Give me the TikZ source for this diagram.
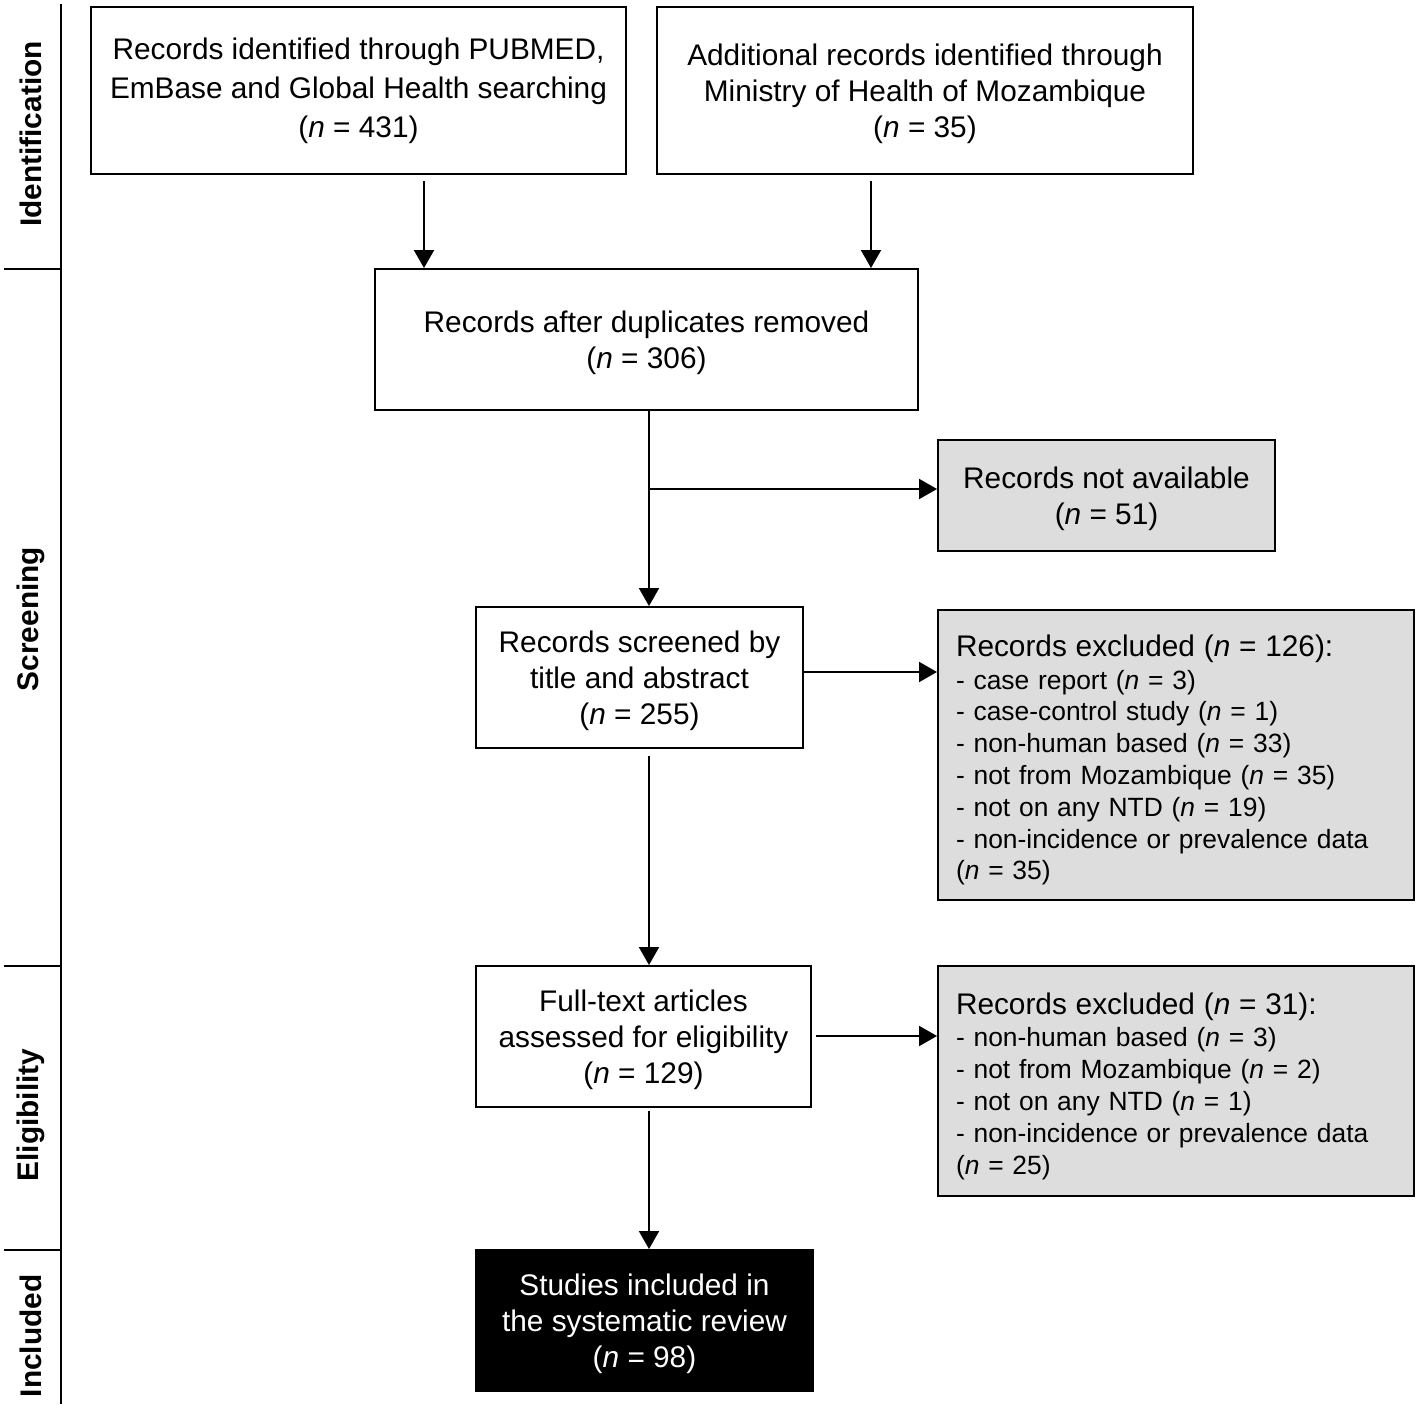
\documentclass[tikz,border=0pt]{standalone}
\usepackage{fontspec}
\setmainfont{Liberation Sans}
\usetikzlibrary{arrows.meta}
\definecolor{boxgray}{RGB}{221,221,221}
\newcommand\tstrut{\rule{0pt}{14.3pt}}
\newcommand\hstrut{\rule{0pt}{15.8pt}}
\begin{document}
\begin{tikzpicture}[x=0.5pt,y=-0.5pt,
  base/.style={draw=black, line width=1pt, inner sep=2pt, align=center,
    font=\fontsize{14.9}{18}\selectfont},
  whitebox/.style={base, fill=white},
  graybox/.style={base, fill=boxgray},
  listbox/.style={graybox, align=left, inner xsep=9pt, text width=220pt,
    font=\fontsize{13.2}{15.9}\selectfont},
  blackbox/.style={base, fill=black, text=white},
  arr/.style={-{Triangle[length=9pt,width=10pt]}, line width=1pt},
  ln/.style={line width=1pt},
  phase/.style={rotate=90, font=\fontsize{14.9}{18}\selectfont\bfseries, inner sep=0pt}
]
\useasboundingbox (0,0) rectangle (1418,1408);

% sidebar
\coordinate (sTop) at (61,4);
\coordinate (sBot) at (61,1404);
\coordinate (t1) at (4,269);
\coordinate (t2) at (4,966);
\coordinate (t3) at (4,1250);
\draw[ln] (sTop) -- (sBot);
\draw[ln] (t1) -- (t1 -| sTop);
\draw[ln] (t2) -- (t2 -| sTop);
\draw[ln] (t3) -- (t3 -| sTop);
\node[phase] (pId) at (31,134) {Identification};
\node[phase] (pSc) at (31,619) {Screening};
\node[phase] (pEl) at (31,1115) {Eligibility};
\node[phase] (pIn) at (31,1336) {Included};

% boxes
\node[whitebox, minimum width=267.5pt, minimum height=83.5pt, font=\fontsize{14.9}{19.5}\selectfont] (b1) at (358.5,90.5)
  {Records identified through PUBMED,\\EmBase and Global Health searching\\(\textit{n} = 431)};
\node[whitebox, minimum width=268pt, minimum height=83.5pt] (b2) at (925,90.5)
  {\tstrut Additional records identified through\\Ministry of Health of Mozambique\\(\textit{n} = 35)};
\node[whitebox, minimum width=271.5pt, minimum height=70.5pt] (b3) at (646.5,339.5)
  {\tstrut Records after duplicates removed\\(\textit{n} = 306)};
\node[graybox, minimum width=168.5pt, minimum height=55.5pt] (b4) at (1106.5,495.5)
  {\tstrut Records not available\\(\textit{n} = 51)};
\node[whitebox, minimum width=163.5pt, minimum height=70.5pt] (b5) at (639.5,677.5)
  {\tstrut Records screened by\\title and abstract\\(\textit{n} = 255)};
\node[listbox, minimum height=145pt] (b6) at (1176,755)
  {{\fontsize{14.9}{18}\selectfont\hstrut Records excluded (\textit{n} = 126):}\\[0.5pt]
   - case report (\textit{n} = 3)\\
   - case-control study (\textit{n} = 1)\\
   - non-human based (\textit{n} = 33)\\
   - not from Mozambique (\textit{n} = 35)\\
   - not on any NTD (\textit{n} = 19)\\
   - non-incidence or prevalence data\\
   (\textit{n} = 35)};
\node[whitebox, minimum width=167.5pt, minimum height=70.5pt] (b7) at (643.5,1036.5)
  {\tstrut Full-text articles\\assessed for eligibility\\(\textit{n} = 129)};
\node[listbox, minimum height=115pt] (b8) at (1176,1081)
  {{\fontsize{14.9}{18}\selectfont\hstrut Records excluded (\textit{n} = 31):}\\[0.5pt]
   - non-human based (\textit{n} = 3)\\
   - not from Mozambique (\textit{n} = 2)\\
   - not on any NTD (\textit{n} = 1)\\
   - non-incidence or prevalence data\\
   (\textit{n} = 25)};
\node[blackbox, minimum width=168.5pt, minimum height=70.5pt] (b9) at (644.5,1320.5)
  {\tstrut Studies included in\\the systematic review\\(\textit{n} = 98)};

% connectors
\coordinate (a1) at (424,0);
\coordinate (a2) at (871,0);
\coordinate (vx) at (649,0);
\coordinate (br) at (649,489);
\coordinate (h1) at (0,672);
\coordinate (h2) at (0,1036);
\draw[arr, shorten <=3pt] (b1.south -| a1) -- (b3.north -| a1);
\draw[arr, shorten <=3pt] (b2.south -| a2) -- (b3.north -| a2);
\draw[arr] (b3.south -| vx) -- (b5.north -| vx);
\draw[arr] (br) -- (b4.west |- br);
\draw[arr] (b5.east |- h1) -- (b6.west |- h1);
\draw[arr, shorten <=3.5pt] (b5.south -| vx) -- (b7.north -| vx);
\draw[arr, shorten <=2pt] (b7.east |- h2) -- (b8.west |- h2);
\draw[arr, shorten <=1.5pt] (b7.south -| vx) -- (b9.north -| vx);
\end{tikzpicture}
\end{document}
